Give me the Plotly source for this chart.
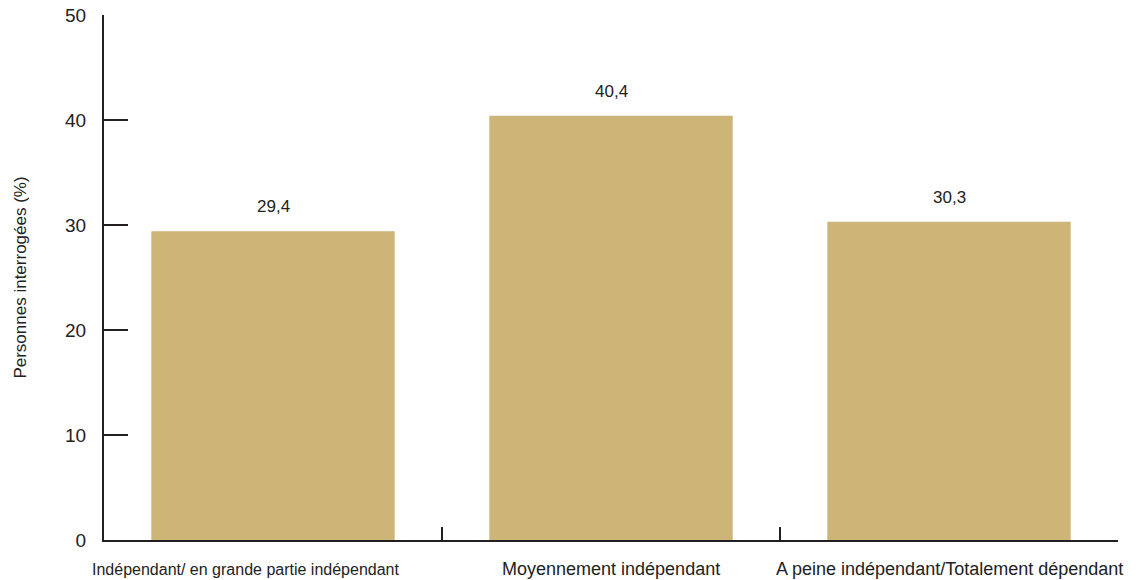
import plotly.graph_objects as go

categories = ["Indépendant/ en grande partie indépendant", "Moyennement indépendant",
              "A peine indépendant/Totalement dépendant"]
values = [29.4, 40.4, 30.3]
y_ticks = [0, 10, 20, 30, 40, 50]

bar_color = "#CDB477"
axis_color = "#231F20"
font_family = "Liberation Sans, Arial, sans-serif"

# category label styling (first, longest label is smaller and nudged left, as in the reference)
label_sizes = [16, 18, 18]
label_xshift = [-28, 0, 0]

fig = go.Figure()
fig.add_trace(go.Bar(x=categories, y=values, marker=dict(color=bar_color, line=dict(width=0)),
                     width=0.72, hoverinfo="skip"))

for c, v in zip(categories, values):
    fig.add_annotation(x=c, y=v, text=f"{v:.1f}".replace(".", ","), showarrow=False,
                       yanchor="bottom", yshift=13,
                       font=dict(family=font_family, size=17, color="#222"))

for c, s, dx in zip(categories, label_sizes, label_xshift):
    fig.add_annotation(x=c, y=0, text=c, showarrow=False, yanchor="middle",
                       yshift=-29, xshift=dx,
                       font=dict(family=font_family, size=s, color="#222"))

# page body has an 8px default margin, so the figure is sized/offset accordingly
fig.update_layout(
    width=1134, height=572,
    margin=dict(l=96, r=24, t=7, b=40),
    plot_bgcolor="white", paper_bgcolor="white",
    showlegend=False,
    font=dict(family=font_family, color="#222"),
)
fig.update_xaxes(
    range=[-0.5, 2.5], showline=True, linecolor=axis_color, linewidth=2,
    ticks="inside", tickson="boundaries", ticklen=13, tickwidth=2, tickcolor=axis_color,
    showgrid=False, showticklabels=False, automargin=False,
)
fig.update_yaxes(
    range=[0, 50], tickvals=y_ticks, showline=True, linecolor=axis_color, linewidth=2,
    ticks="inside", ticklen=24, tickwidth=2, tickcolor=axis_color,
    showgrid=False, zeroline=False, tickfont=dict(size=19, color="#222"),
    ticklabelstandoff=12, automargin=False, ticklabeloverflow="allow",
    title=dict(text="Personnes interrogées (%)", font=dict(size=17, color="#222"), standoff=34),
)

fig.write_html("out.html")
